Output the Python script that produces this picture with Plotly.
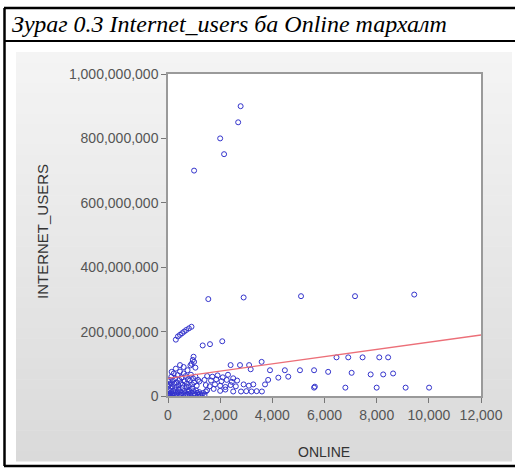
import plotly.graph_objects as go

# ---- data: ONLINE vs INTERNET_USERS (users in millions) ----
online = [
    # dense group near the origin
    20, 40, 60, 80, 100, 120, 150, 180, 200, 230, 260, 290, 320, 350, 380, 410, 440, 470,
    500, 530, 560, 590, 620, 650, 680, 710, 740, 770, 800, 830, 860, 890, 920, 950, 980,
    1010, 1040, 1080, 1120, 1160, 1200, 1240, 1290, 1340, 1400, 1450,
    10, 15, 30, 50, 70, 90, 110, 130, 160, 190, 220, 250, 280, 310, 340, 370, 400, 430,
    460, 490, 520, 560, 600, 640, 680, 720, 760, 800, 840, 880, 920, 960, 1000, 1050,
    1100, 1150, 1200,
    140, 300, 460, 600, 750, 900, 950, 980, 1000, 1050, 860,
    # arc around 200 million
    300, 380, 460, 540, 620, 700, 800, 900,
    1330, 1610, 2080,
    # lower band 1,300 - 3,800
    1500, 1700, 1900, 2100, 2300, 2500,
    1400, 1650, 1850, 2050, 2250, 2450, 2650,
    1450, 1600, 1800, 2000, 2200, 2400, 2600, 2900, 3100,
    1500, 1750, 2000, 2200, 2500,
    2800, 3000, 3200, 3400, 3600,
    3270, 3720, 3840, 4230, 4610, 5630, 6800,
    # middle rows
    2400, 2760, 3110, 3590, 3170,
    3910, 4480, 5060, 5600, 6140, 7040,
    6460, 6910, 7460, 8100, 8440,
    7770, 8250, 8630,
    5600, 8000, 9110, 10010,
    # row around 300 million
    1545, 2900, 5100, 7170, 9440,
    # top group
    1000, 2150, 2000, 2690, 2785,
]

internet_users_mln = [
    2, 5, 1, 8, 3, 12, 6, 2, 15, 9, 4, 18, 7, 1, 11, 22, 5, 14,
    3, 9, 25, 6, 16, 2, 10, 28, 4, 13, 19, 7, 2, 11, 24, 5, 15,
    8, 3, 17, 10, 4, 12, 6, 2, 9, 3, 14,
    30, 45, 20, 35, 50, 25, 40, 60, 30, 48, 70, 38, 55, 28, 42, 65, 33, 50,
    76, 40, 58, 35, 70, 45, 62, 38, 52, 30, 48, 66, 36, 55, 42, 60,
    32, 50, 45,
    75, 85, 96, 90, 80, 100, 112, 122, 106, 88, 95,
    175, 185, 190, 195, 200, 205, 210, 215,
    157, 161, 170,
    62, 60, 64, 58, 66, 55,
    50, 48, 52, 46, 50, 44, 48,
    34, 30, 36, 32, 28, 34, 30, 36, 32,
    18, 22, 16, 20, 14,
    14, 15, 14, 15, 14,
    36, 36, 50, 57, 60, 29, 26,
    96, 96, 96, 106, 83,
    80, 80, 80, 80, 75, 72,
    120, 120, 120, 120, 120,
    67, 67, 70,
    26, 26, 26, 26,
    301, 306, 310, 310, 315,
    700, 751, 800, 850, 900,
]

# least-squares line shown on the scatter
fit_intercept_mln = 55.0
fit_slope_mln = 0.0112  # millions of users per ONLINE unit
fit_x = [0, 12000]

x_ticks = [0, 2000, 4000, 6000, 8000, 10000, 12000]
y_ticks = [0, 200e6, 400e6, 600e6, 800e6, 1000e6]

# ---- geometry (pixels) ----
FIG_W, FIG_H = 516, 470
L, R, T, B = 168, 481, 74, 396
W, H = R - L, B - T


def px(x):
    return (x - L) / W


def py(y):
    return (B - y) / H


users = [v * 1e6 for v in internet_users_mln]
fit_y = [(fit_intercept_mln + fit_slope_mln * x) * 1e6 for x in fit_x]

fig = go.Figure()
fig.add_trace(go.Scatter(
    x=online, y=users, mode="markers",
    marker=dict(symbol="circle-open", size=5, color="#3434cc", line=dict(width=1)),
    hoverinfo="skip", showlegend=False,
))
fig.add_trace(go.Scatter(
    x=fit_x, y=fit_y, mode="lines",
    line=dict(color="#ec6f78", width=1.3),
    hoverinfo="skip", showlegend=False,
))

shapes = []
# grey panel with a soft vertical gradient
top, bot, n = 52, 461, 40
c0, c1 = 244, 218
for i in range(n):
    y0 = top + (bot - top) * i / n
    y1 = top + (bot - top) * (i + 1) / n
    c = round(c0 + (c1 - c0) * i / (n - 1))
    shapes.append(dict(
        type="rect", xref="paper", yref="paper", layer="below",
        x0=px(16), x1=px(512), y0=py(y1 + 0.5), y1=py(y0),
        fillcolor=f"rgb({c},{c},{c})", line=dict(width=0),
    ))
# white plotting area
shapes.append(dict(type="rect", xref="paper", yref="paper", layer="below",
                   x0=0, x1=1, y0=0, y1=1, fillcolor="white", line=dict(width=0)))
# outer black frame (open to the right) and caption separator
for y in (8, 466):
    shapes.append(dict(type="line", xref="paper", yref="paper",
                       x0=px(4), x1=px(515), y0=py(y), y1=py(y),
                       line=dict(color="black", width=2.5)))
shapes.append(dict(type="line", xref="paper", yref="paper",
                   x0=px(4.5), x1=px(4.5), y0=py(466), y1=py(8),
                   line=dict(color="black", width=2.5)))
shapes.append(dict(type="line", xref="paper", yref="paper",
                   x0=px(4), x1=px(515), y0=py(41), y1=py(41),
                   line=dict(color="black", width=2)))

annotations = [
    dict(text="<i>Зураг 0.3 Internet_users ба Online тархалт</i>",
         xref="paper", yref="paper", x=px(10), y=py(24),
         xanchor="left", yanchor="middle", showarrow=False,
         font=dict(family="Liberation Serif", size=24, color="black")),
    dict(text="INTERNET_USERS", xref="paper", yref="paper",
         x=px(42), y=py(232), textangle=-90, showarrow=False,
         xanchor="center", yanchor="middle",
         font=dict(family="Liberation Sans", size=15, color="#333")),
    dict(text="ONLINE", xref="paper", yref="paper",
         x=px(324), y=py(452), showarrow=False,
         xanchor="center", yanchor="middle",
         font=dict(family="Liberation Sans", size=14, color="#333")),
]

axis_common = dict(
    showgrid=False, zeroline=False, showline=True, mirror=True,
    linecolor="#9a9a9a", linewidth=1.5,
    ticks="outside", ticklen=5, tickcolor="#777", tickwidth=1,
    tickfont=dict(family="Liberation Sans", size=14, color="#555"),
    tickformat=",d",
)

fig.update_layout(
    width=FIG_W, height=FIG_H,
    margin=dict(l=L, r=FIG_W - R, t=T, b=FIG_H - B),
    paper_bgcolor="white", plot_bgcolor="white",
    shapes=shapes, annotations=annotations,
    xaxis=dict(range=[0, 12000], tickvals=x_ticks, **axis_common),
    yaxis=dict(range=[0, 1e9], tickvals=y_ticks, **axis_common),
)

fig.write_html("out.html")
